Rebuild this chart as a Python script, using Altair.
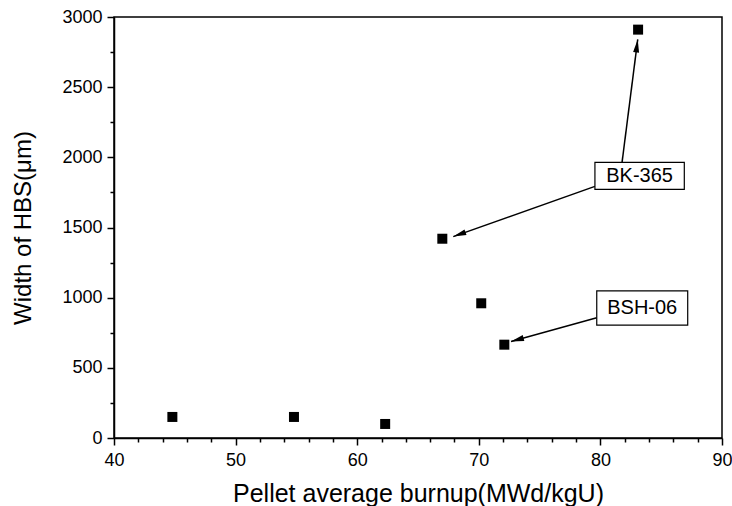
import math
import altair as alt
import pandas as pd

# data points
burnup = [44.8, 54.8, 62.3, 67.0, 70.2, 72.1, 83.1]
hbs_width = [150, 150, 100, 1420, 960, 665, 2910]

# axis ticks
x_ticks = list(range(40, 91, 2))
y_ticks = list(range(0, 3001, 250))

# annotation boxes
box_labels = ["BK-365", "BSH-06"]
box_x1 = [79.55, 79.7]
box_x2 = [86.9, 87.18]
box_y1 = [1771, 805]
box_y2 = [1964, 1048]

# arrows (start -> end, data units)
arr_x1 = [81.78, 79.55, 79.7]
arr_y1 = [1964, 1793, 857]
arr_x2 = [83.07, 67.9, 72.65]
arr_y2 = [2840, 1435, 688]

W, H = 608, 421
XMIN, XMAX, YMIN, YMAX = 40, 90, 0, 3000
sx = W / (XMAX - XMIN)
sy = H / (YMAX - YMIN)

pts = pd.DataFrame({"x": burnup, "y": hbs_width})
boxes = pd.DataFrame({"label": box_labels, "x1": box_x1, "x2": box_x2,
                      "y1": box_y1, "y2": box_y2})
boxes["xc"] = (boxes.x1 + boxes.x2) / 2
boxes["yc"] = (boxes.y1 + boxes.y2) / 2
arrows = pd.DataFrame({"x1": arr_x1, "y1": arr_y1, "x2": arr_x2, "y2": arr_y2})
arrows["ang"] = [
    (math.degrees(math.atan2((b - a) * sx, (d - c) * sy)) + 360) % 360
    for a, b, c, d in zip(arr_x1, arr_x2, arr_y1, arr_y2)
]

FONT = "Liberation Sans"
ARROW_SHAPE = "M0,0L-0.6,2.6L0.6,2.6Z"
xs = alt.Scale(domain=[XMIN, XMAX], nice=False)
ys = alt.Scale(domain=[YMIN, YMAX], nice=False)

xaxis = alt.Axis(values=x_ticks, tickCount=200, format="d",
                 tickSize={"condition": {"test": "datum.value % 10 === 0", "value": 7}, "value": 4},
                 labelExpr="datum.value % 10 === 0 ? datum.label : ''",
                 labelPadding=6,
                 title="Pellet average burnup(MWd/kgU)", titleFontSize=25,
                 titlePadding=12)
yaxis = alt.Axis(values=y_ticks, tickCount=200, format="d",
                 tickSize={"condition": {"test": "datum.value % 500 === 0", "value": 7}, "value": 4},
                 labelExpr="datum.value % 500 === 0 ? datum.label : ''",
                 labelPadding=5,
                 title="Width of HBS(μm)", titleFontSize=24, titlePadding=26)

points = alt.Chart(pts).mark_square(size=100, color="black", opacity=1).encode(
    x=alt.X("x:Q", scale=xs, axis=xaxis),
    y=alt.Y("y:Q", scale=ys, axis=yaxis),
)

rects = alt.Chart(boxes).mark_rect(fill="white", stroke="black",
                                   strokeWidth=1.2).encode(
    x=alt.X("x1:Q", scale=xs), x2="x2:Q",
    y=alt.Y("y1:Q", scale=ys), y2="y2:Q",
)
texts = alt.Chart(boxes).mark_text(font=FONT, fontSize=20, color="black",
                                   baseline="middle", align="center").encode(
    x=alt.X("xc:Q", scale=xs), y=alt.Y("yc:Q", scale=ys), text="label:N"
)
lines = alt.Chart(arrows).mark_rule(color="black", strokeWidth=1.5).encode(
    x=alt.X("x1:Q", scale=xs), y=alt.Y("y1:Q", scale=ys), x2="x2:Q", y2="y2:Q"
)
heads = alt.Chart(arrows).mark_point(shape=ARROW_SHAPE, filled=True,
                                     color="black", size=100, opacity=1).encode(
    x=alt.X("x2:Q", scale=xs), y=alt.Y("y2:Q", scale=ys),
    angle=alt.Angle("ang:Q", scale=None),
)

chart = alt.layer(points, lines, heads, rects, texts).properties(
    width=W, height=H,
    background="white",
    autosize=alt.AutoSizeParams(type="none"),
    padding={"left": 114, "top": 17, "right": 10, "bottom": 68},
).configure_view(
    stroke="black", strokeWidth=1.5
).configure_axis(
    labelOverlap=False, labelFlush=False, grid=False,
    tickWidth=1.5, tickColor="black", domainColor="black", domainWidth=1.5,
    labelFont=FONT, labelFontSize=18, labelColor="black",
    titleFont=FONT, titleFontWeight="normal", titleColor="black",
)

chart.save("out.html", embed_options={"renderer": "svg", "actions": False})
